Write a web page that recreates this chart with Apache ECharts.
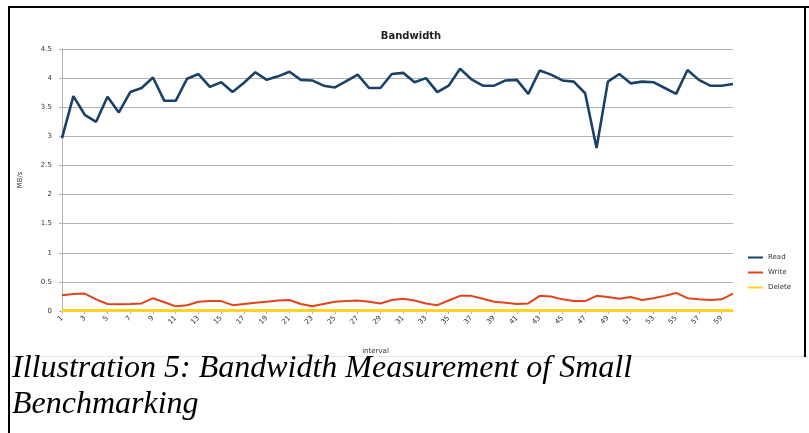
<!DOCTYPE html>
<html>
<head>
<meta charset="utf-8">
<script src="https://cdn.jsdelivr.net/npm/echarts@6/dist/echarts.min.js"></script>
<style>
  html, body { margin: 0; padding: 0; background: #fff; }
  #chart { width: 809px; height: 433px; }
</style>
</head>
<body>
<div id="chart"></div>
<script>
// Measurement intervals 1..60
const intervals = [];
for (let i = 1; i <= 60; i++) intervals.push(String(i));

// Bandwidth per interval, MB/s
const readMBs = [
  2.97, 3.69, 3.37, 3.25, 3.68, 3.41, 3.76, 3.83, 4.01, 3.61,
  3.61, 3.99, 4.07, 3.85, 3.93, 3.76, 3.92, 4.10, 3.97, 4.03,
  4.11, 3.97, 3.96, 3.87, 3.84, 3.95, 4.06, 3.83, 3.83, 4.07,
  4.09, 3.93, 4.00, 3.76, 3.87, 4.16, 3.98, 3.87, 3.87, 3.96,
  3.97, 3.73, 4.13, 4.06, 3.96, 3.94, 3.74, 2.80, 3.94, 4.07,
  3.91, 3.94, 3.93, 3.83, 3.73, 4.14, 3.97, 3.87, 3.87, 3.90
];
const writeMBs = [
  0.27, 0.29, 0.30, 0.20, 0.12, 0.115, 0.12, 0.13, 0.22, 0.15,
  0.08, 0.10, 0.16, 0.17, 0.17, 0.10, 0.12, 0.14, 0.16, 0.18,
  0.19, 0.12, 0.08, 0.12, 0.16, 0.17, 0.18, 0.16, 0.13, 0.19,
  0.21, 0.18, 0.13, 0.10, 0.18, 0.26, 0.26, 0.21, 0.16, 0.14,
  0.12, 0.13, 0.26, 0.25, 0.20, 0.17, 0.17, 0.26, 0.24, 0.21,
  0.24, 0.19, 0.22, 0.26, 0.31, 0.22, 0.20, 0.19, 0.20, 0.30
];
const deleteMBs = [
  0.01, 0.01, 0.01, 0.01, 0.01, 0.01, 0.01, 0.01, 0.01, 0.01,
  0.01, 0.01, 0.01, 0.01, 0.01, 0.01, 0.01, 0.01, 0.01, 0.01,
  0.01, 0.01, 0.01, 0.01, 0.01, 0.01, 0.01, 0.01, 0.01, 0.01,
  0.01, 0.01, 0.01, 0.01, 0.01, 0.01, 0.01, 0.01, 0.01, 0.01,
  0.01, 0.01, 0.01, 0.01, 0.01, 0.01, 0.01, 0.01, 0.01, 0.01,
  0.01, 0.01, 0.01, 0.01, 0.01, 0.01, 0.01, 0.01, 0.01, 0.01
];

const seriesNames = ['Read', 'Write', 'Delete'];
const captionLines = [
  'Illustration 5: Bandwidth Measurement of Small',
  'Benchmarking'
];

const chart = echarts.init(document.getElementById('chart'), null, { renderer: 'canvas' });

const tickFont = 'DejaVu Sans';

chart.setOption({
  backgroundColor: '#ffffff',
  animation: false,
  title: {
    text: 'Bandwidth',
    left: 406,
    top: 26,
    textAlign: 'center',
    textStyle: { fontFamily: 'DejaVu Sans', fontSize: 10, fontWeight: 'bold', color: '#222' }
  },
  legend: {
    data: seriesNames,
    orient: 'vertical',
    left: 743,
    top: 248,
    icon: 'rect',
    itemWidth: 15,
    itemHeight: 2,
    itemGap: 6,
    textStyle: { fontFamily: tickFont, fontSize: 7, color: '#333', lineHeight: 9 }
  },
  grid: { left: 62, right: 76, top: 49, bottom: 122, containLabel: false },
  xAxis: {
    type: 'category',
    data: intervals,
    boundaryGap: false,
    name: 'interval',
    nameLocation: 'middle',
    nameGap: 37,
    nameTextStyle: { fontFamily: tickFont, fontSize: 7, color: '#333', padding: [0, 44, 0, 0] },
    axisLine: { lineStyle: { color: '#b3b3b3', width: 1 } },
    axisTick: { show: true, interval: 1, length: 3, lineStyle: { color: '#b3b3b3' } },
    axisLabel: {
      interval: 1,
      rotate: 45,
      fontFamily: tickFont,
      fontSize: 7,
      color: '#333',
      margin: 6
    },
    splitLine: { show: false }
  },
  yAxis: {
    type: 'value',
    min: 0,
    max: 4.5,
    interval: 0.5,
    name: 'MB/s',
    nameLocation: 'middle',
    nameGap: 38,
    nameRotate: 90,
    nameTextStyle: { fontFamily: tickFont, fontSize: 7, color: '#333' },
    axisLine: { show: true, lineStyle: { color: '#b3b3b3', width: 1 } },
    axisTick: { show: true, length: 3, lineStyle: { color: '#b3b3b3' } },
    axisLabel: { fontFamily: tickFont, fontSize: 7, color: '#333', margin: 10 },
    splitLine: { show: true, lineStyle: { color: '#b3b3b3', width: 1 } }
  },
  series: [
    {
      name: seriesNames[0], type: 'line', data: readMBs,
      showSymbol: false, symbol: 'none',
      lineStyle: { color: '#1a4268', width: 2.6 },
      itemStyle: { color: '#1a4268' }, z: 4
    },
    {
      name: seriesNames[1], type: 'line', data: writeMBs,
      showSymbol: false, symbol: 'none',
      lineStyle: { color: '#e4421a', width: 2 },
      itemStyle: { color: '#e4421a' }, z: 3
    },
    {
      name: seriesNames[2], type: 'line', data: deleteMBs,
      showSymbol: false, symbol: 'none',
      lineStyle: { color: '#ffd320', width: 3 },
      itemStyle: { color: '#ffd320' }, z: 2
    }
  ],
  graphic: [
    // page frame
    { type: 'rect', shape: { x: 8, y: 6, width: 801, height: 2 }, style: { fill: '#000' }, silent: true },
    { type: 'rect', shape: { x: 8, y: 6, width: 2, height: 427 }, style: { fill: '#000' }, silent: true },
    { type: 'rect', shape: { x: 804, y: 6, width: 2, height: 351 }, style: { fill: '#000' }, silent: true },
    { type: 'rect', shape: { x: 10, y: 356, width: 794, height: 1 }, style: { fill: '#e6e6e6' }, silent: true },
    // figure caption
    {
      type: 'text', left: 12, top: 353, silent: true,
      style: { text: captionLines[0], font: 'italic 32px "Liberation Serif"', fill: '#000' }
    },
    {
      type: 'text', left: 12, top: 389, silent: true,
      style: { text: captionLines[1], font: 'italic 32px "Liberation Serif"', fill: '#000' }
    }
  ]
});
</script>
</body>
</html>
